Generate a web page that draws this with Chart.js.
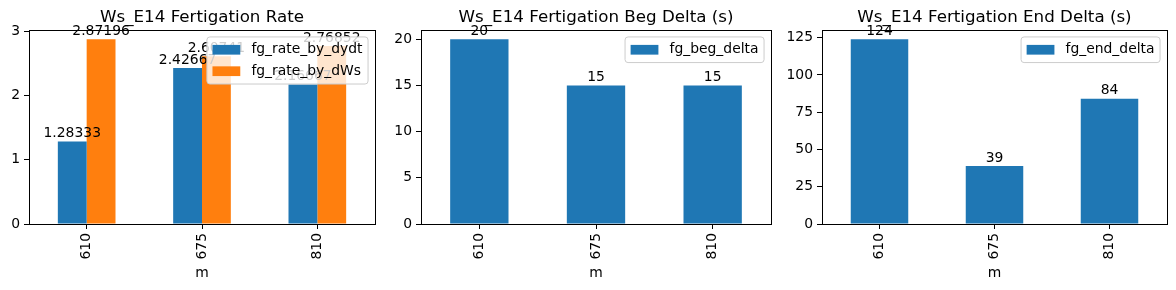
<!DOCTYPE html>
<html>
<head>
<meta charset="utf-8">
<script src="https://cdn.jsdelivr.net/npm/chart.js@4/dist/chart.umd.min.js"></script>
<style>
  html, body { margin: 0; padding: 0; background: #fff; }
  #wrap { position: relative; width: 1176px; height: 290px; }
  .box { position: absolute; top: 0; height: 290px; }
</style>
</head>
<body>
<div id="wrap">
  <div class="box" style="left:0;width:390px"><canvas id="rateChart"></canvas></div>
  <div class="box" style="left:390px;width:390px"><canvas id="begChart"></canvas></div>
  <div class="box" style="left:780px;width:396px"><canvas id="endChart"></canvas></div>
</div>
<script>
// data
const categories = ["610", "675", "810"];
const rateByDydt = [1.28333, 2.42667, 2.16667];
const rateByDWs = [2.87196, 2.60741, 2.76852];
const begDelta = [20, 15, 15];
const endDelta = [124, 39, 84];

const rateTicks = [0, 1, 2, 3];
const begTicks = [0, 5, 10, 15, 20];
const endTicks = [0, 25, 50, 75, 100, 125];

const BLUE = "#1f77b4";
const ORANGE = "#ff7f0e";
const FONT = "DejaVu Sans";
const FS = 13.9;

Chart.defaults.font.family = FONT;
Chart.defaults.color = "#000";

// like %g in python
function fmt(v) {
  return String(Number(v.toPrecision(6)));
}

function roundRect(ctx, x, y, w, h, r) {
  ctx.beginPath();
  ctx.moveTo(x + r, y);
  ctx.lineTo(x + w - r, y);
  ctx.quadraticCurveTo(x + w, y, x + w, y + r);
  ctx.lineTo(x + w, y + h - r);
  ctx.quadraticCurveTo(x + w, y + h, x + w - r, y + h);
  ctx.lineTo(x + r, y + h);
  ctx.quadraticCurveTo(x, y + h, x, y + h - r);
  ctx.lineTo(x, y + r);
  ctx.quadraticCurveTo(x, y, x + r, y);
  ctx.closePath();
}

// frame, bar labels, title and legend drawn matplotlib style
function decoPlugin(title) {
  return {
    id: "deco",
    afterDatasetsDraw(chart) {
      const ctx = chart.ctx;
      const a = chart.chartArea;
      ctx.save();
      ctx.strokeStyle = "#000";
      ctx.lineWidth = 1;
      ctx.strokeRect(Math.floor(a.left) + 0.5, Math.floor(a.top) + 0.5,
        Math.round(a.right - a.left), Math.round(a.bottom - a.top));

      ctx.fillStyle = "#000";
      ctx.font = FS + "px " + FONT;
      ctx.textAlign = "center";
      ctx.textBaseline = "bottom";
      chart.data.datasets.forEach((ds, i) => {
        chart.getDatasetMeta(i).data.forEach((bar, j) => {
          ctx.fillText(fmt(ds.data[j]), bar.x, bar.y - 1);
        });
      });
      ctx.restore();
    },
    afterDraw(chart) {
      const ctx = chart.ctx;
      const a = chart.chartArea;
      ctx.save();
      // title
      ctx.fillStyle = "#000";
      ctx.font = "16.7px " + FONT;
      ctx.textAlign = "center";
      ctx.textBaseline = "alphabetic";
      ctx.fillText(title, (a.left + a.right) / 2, 22);

      // legend, upper right inside the axes
      ctx.font = FS + "px " + FONT;
      const items = chart.data.datasets;
      const tw = Math.max(...items.map(d => ctx.measureText(d.label).width));
      const pad = 0.4 * FS, hl = 2 * FS, htp = 0.8 * FS, ls = 0.5 * FS, rowH = 14.5;
      const w = pad * 2 + hl + htp + tw;
      const h = pad * 2 + items.length * rowH + (items.length - 1) * ls;
      const x0 = a.right - 0.5 * FS - w;
      const y0 = a.top + 0.5 * FS;
      roundRect(ctx, x0, y0, w, h, 3);
      ctx.fillStyle = "rgba(255,255,255,0.8)";
      ctx.fill();
      ctx.strokeStyle = "#cccccc";
      ctx.lineWidth = 1;
      ctx.stroke();
      items.forEach((d, k) => {
        const cy = y0 + pad + k * (rowH + ls) + rowH / 2;
        ctx.fillStyle = d.backgroundColor;
        ctx.fillRect(x0 + pad, cy - 0.35 * FS, hl, 0.7 * FS);
        ctx.fillStyle = "#000";
        ctx.textAlign = "left";
        ctx.textBaseline = "middle";
        ctx.fillText(d.label, x0 + pad + hl + htp, cy);
      });
      ctx.restore();
    }
  };
}

function makeChart(id, title, datasets, yTicks, yWidth, rightPad) {
  const top = Math.max(...datasets.flatMap(d => d.data)) * 1.05;
  return new Chart(document.getElementById(id), {
    type: "bar",
    data: {
      labels: categories,
      datasets: datasets.map(d => ({
        label: d.label,
        data: d.data,
        backgroundColor: d.color,
        borderWidth: 0,
        inflateAmount: 0,
        categoryPercentage: 0.5,
        barPercentage: 1.0
      }))
    },
    options: {
      responsive: true,
      maintainAspectRatio: false,
      animation: false,
      layout: { padding: { top: 30, right: rightPad, bottom: 4, left: 0 } },
      plugins: {
        legend: { display: false },
        title: { display: false },
        tooltip: { enabled: false }
      },
      scales: {
        x: {
          offset: true,
          border: { display: false },
          grid: { display: true, drawOnChartArea: false, offset: false, tickLength: 5, tickColor: "#000" },
          ticks: { minRotation: 90, maxRotation: 90, padding: 4, font: { size: FS }, color: "#000" },
          title: { display: true, text: "m", font: { size: FS }, color: "#000", padding: { top: 2, bottom: 4 } },
          afterFit: s => { s.height = 62; }
        },
        y: {
          min: 0,
          max: top,
          border: { display: false },
          grid: { display: true, drawOnChartArea: false, tickLength: 5, tickColor: "#000" },
          ticks: { padding: 4, font: { size: FS }, color: "#000" },
          afterBuildTicks: s => { s.ticks = yTicks.map(v => ({ value: v })); },
          afterFit: s => { s.width = yWidth; }
        }
      }
    },
    plugins: [decoPlugin(title)]
  });
}

makeChart("rateChart", "Ws_E14 Fertigation Rate", [
  { label: "fg_rate_by_dydt", data: rateByDydt, color: BLUE },
  { label: "fg_rate_by_dWs", data: rateByDWs, color: ORANGE }
], rateTicks, 29, 15);

makeChart("begChart", "Ws_E14 Fertigation Beg Delta (s)", [
  { label: "fg_beg_delta", data: begDelta, color: BLUE }
], begTicks, 31, 9);

makeChart("endChart", "Ws_E14 Fertigation End Delta (s)", [
  { label: "fg_end_delta", data: endDelta, color: BLUE }
], endTicks, 42, 9);
</script>
</body>
</html>
